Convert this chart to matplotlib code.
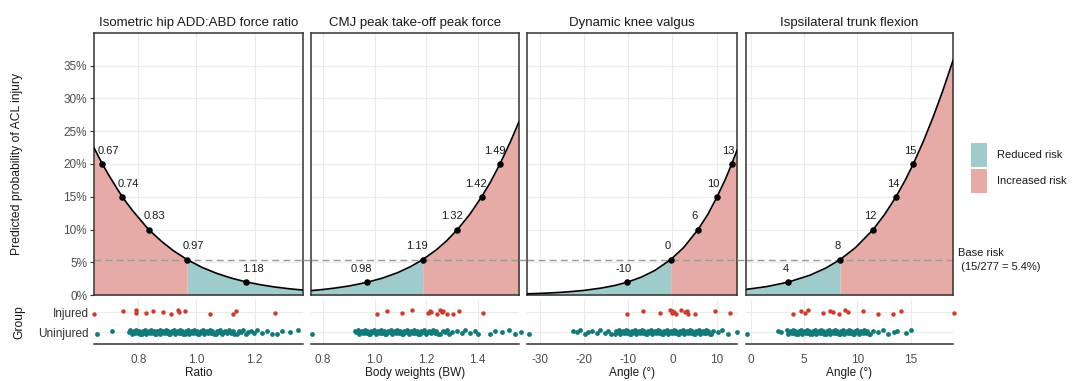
import numpy as np
import matplotlib
matplotlib.use("Agg")
import matplotlib.pyplot as plt
from matplotlib.lines import Line2D
from matplotlib.patches import Rectangle
from matplotlib.transforms import blended_transform_factory

plt.rcParams['font.family'] = ['Liberation Sans', 'DejaVu Sans']

# ---- data ----
base_risk = 0.054
base_label = "Base risk\n (15/277 = 5.4%)"

titles = ["Isometric hip ADD:ABD force ratio", "CMJ peak take-off peak force",
          "Dynamic knee valgus", "Ispsilateral trunk flexion"]
xlabels = ["Ratio", "Body weights (BW)", "Angle (°)", "Angle (°)"]
legend_labels = ["Reduced risk", "Increased risk"]

# predicted probability curves
hip_curve_x = [0.647, 0.676, 0.70, 0.744, 0.78, 0.835, 0.88, 0.92, 0.968, 1.02, 1.07,
               1.12, 1.172, 1.22, 1.27, 1.32, 1.367]
hip_curve_y = [0.2246, 0.200, 0.1814, 0.150, 0.1288, 0.100, 0.0818, 0.0678, 0.054, 0.0420,
               0.0330, 0.0258, 0.0199, 0.0157, 0.0122, 0.0095, 0.0075]
cmj_curve_x = [0.753, 0.80, 0.85, 0.90, 0.97, 1.03, 1.09, 1.14, 1.187, 1.24, 1.28, 1.322,
               1.37, 1.416, 1.45, 1.487, 1.53, 1.561]
cmj_curve_y = [0.0067, 0.0084, 0.0108, 0.0137, 0.0193, 0.0257, 0.0342, 0.0434, 0.054, 0.0690,
               0.0828, 0.100, 0.1232, 0.150, 0.1723, 0.200, 0.236, 0.2645]
knee_curve_x = [-32.9, -28, -24, -20, -16, -13, -10.2, -7, -4, -0.4, 2.5, 5.8, 8, 10.1,
                12, 13.4, 14.6]
knee_curve_y = [0.0018, 0.0030, 0.0046, 0.0070, 0.0107, 0.0146, 0.0196, 0.0274, 0.0374, 0.054,
                0.0722, 0.100, 0.1230, 0.150, 0.1771, 0.200, 0.221]
trunk_curve_x = [-0.47, 1.5, 3.5, 5.5, 7, 8.36, 9.8, 11.48, 12.6, 13.62, 14.5, 15.24, 16.2,
                 17.1, 18.0, 18.97]
trunk_curve_y = [0.0085, 0.0129, 0.0197, 0.0300, 0.0409, 0.054, 0.0722, 0.100, 0.1242, 0.150,
                 0.1758, 0.200, 0.2351, 0.2715, 0.3113, 0.358]

# labelled cut points
hip_pts_x = [0.676, 0.744, 0.835, 0.968, 1.172]
hip_pts_y = [0.200, 0.150, 0.100, 0.054, 0.0199]
hip_pts_lab = ["0.67", "0.74", "0.83", "0.97", "1.18"]
cmj_pts_x = [0.970, 1.187, 1.322, 1.416, 1.487]
cmj_pts_y = [0.0193, 0.054, 0.100, 0.150, 0.200]
cmj_pts_lab = ["0.98", "1.19", "1.32", "1.42", "1.49"]
knee_pts_x = [-10.2, -0.4, 5.8, 10.1, 13.4]
knee_pts_y = [0.0196, 0.054, 0.100, 0.150, 0.200]
knee_pts_lab = ["-10", "0", "6", "10", "13"]
trunk_pts_x = [3.5, 8.36, 11.48, 13.62, 15.24]
trunk_pts_y = [0.0197, 0.054, 0.100, 0.150, 0.200]
trunk_pts_lab = ["4", "8", "12", "14", "15"]

# individual athletes (rug)
hip_inj = [0.647, 0.748, 0.790, 0.792, 0.826, 0.851, 0.886, 0.911, 0.937, 0.939, 0.960,
           1.047, 1.126, 1.135, 1.271]
hip_uninj = [0.656, 0.710, 0.768, 0.771, 0.777, 0.780, 0.786, 0.789, 0.793, 0.799, 0.802,
             0.806, 0.811, 0.815, 0.818, 0.824, 0.827, 0.831, 0.836, 0.840, 0.843, 0.849,
             0.852, 0.856, 0.861, 0.864, 0.869, 0.873, 0.876, 0.882, 0.885, 0.889, 0.894,
             0.897, 0.902, 0.906, 0.909, 0.915, 0.918, 0.922, 0.927, 0.930, 0.935, 0.939,
             0.942, 0.948, 0.951, 0.955, 0.960, 0.963, 0.968, 0.972, 0.975, 0.981, 0.984,
             0.988, 0.993, 0.997, 1.001, 1.006, 1.010, 1.014, 1.019, 1.023, 1.027, 1.032,
             1.036, 1.041, 1.046, 1.050, 1.055, 1.061, 1.066, 1.071, 1.077, 1.082, 1.088,
             1.094, 1.099, 1.106, 1.112, 1.118, 1.125, 1.131, 1.138, 1.146, 1.153, 1.161,
             1.170, 1.178, 1.187, 1.197, 1.208, 1.225, 1.242, 1.259, 1.277, 1.294, 1.322, 1.351]
cmj_inj = [1.009, 1.047, 1.108, 1.147, 1.209, 1.214, 1.219, 1.242, 1.254, 1.262, 1.267,
           1.280, 1.306, 1.328, 1.423]
cmj_uninj = [0.757, 0.924, 0.929, 0.934, 0.940, 0.945, 0.950, 0.956, 0.961, 0.966, 0.972,
             0.977, 0.982, 0.988, 0.993, 0.998, 1.004, 1.009, 1.014, 1.020, 1.025, 1.030,
             1.036, 1.041, 1.046, 1.052, 1.057, 1.062, 1.068, 1.073, 1.078, 1.084, 1.089,
             1.094, 1.100, 1.105, 1.110, 1.116, 1.121, 1.126, 1.132, 1.137, 1.142, 1.148,
             1.153, 1.158, 1.164, 1.169, 1.175, 1.181, 1.187, 1.193, 1.199, 1.206, 1.212,
             1.219, 1.226, 1.233, 1.240, 1.248, 1.256, 1.264, 1.273, 1.282, 1.291, 1.300,
             1.319, 1.339, 1.351, 1.371, 1.390, 1.403, 1.449, 1.468, 1.494, 1.522, 1.546, 1.569]
knee_inj = [-10.2, -6.7, -2.8, -0.6, -0.2, 0.0, 0.4, 0.8, 1.9, 2.8, 3.2, 3.6, 5.1, 9.6, 13.0]
knee_uninj = [-32.4, -22.4, -21.7, -20.9, -19.8, -19.0, -18.3, -17.1, -16.4, -15.3, -14.5,
              -13.8, -13.0, -12.7, -12.3, -12.1, -11.8, -11.4, -11.2, -10.9, -10.5, -10.3,
              -10.0, -9.6, -9.4, -9.1, -8.7, -8.5, -8.2, -7.8, -7.6, -7.3, -6.9, -6.7, -6.4,
              -6.0, -5.8, -5.5, -5.1, -4.9, -4.6, -4.2, -4.0, -3.7, -3.3, -3.1, -2.8, -2.4,
              -2.2, -1.9, -1.5, -1.3, -1.0, -0.6, -0.4, -0.1, 0.3, 0.5, 0.8, 1.2, 1.4, 1.7,
              2.1, 2.3, 2.6, 3.0, 3.2, 3.5, 3.9, 4.1, 4.4, 4.8, 5.0, 5.3, 5.7, 5.9, 6.2, 6.6,
              6.8, 7.1, 7.5, 7.7, 8.0, 8.4, 8.8, 9.2, 10.4, 11.1, 12.6, 14.5]
trunk_inj = [3.97, 4.69, 5.07, 5.38, 6.79, 7.42, 7.73, 8.29, 8.83, 9.14, 10.55, 11.95, 13.3,
             14.08, 19.06]
trunk_uninj = [-0.40, 2.56, 2.79, 3.35, 3.50, 3.61, 3.72, 3.82, 3.93, 4.04, 4.15, 4.26, 4.37,
               4.48, 4.59, 4.70, 4.81, 4.92, 5.03, 5.14, 5.25, 5.36, 5.47, 5.58, 5.69, 5.80,
               5.91, 6.02, 6.13, 6.24, 6.35, 6.46, 6.57, 6.68, 6.79, 6.90, 7.01, 7.12, 7.23,
               7.34, 7.45, 7.56, 7.67, 7.78, 7.89, 8.00, 8.11, 8.22, 8.33, 8.44, 8.55, 8.66,
               8.77, 8.88, 8.99, 9.10, 9.21, 9.32, 9.43, 9.54, 9.65, 9.76, 9.87, 9.98, 10.10,
               10.22, 10.35, 10.48, 10.62, 10.76, 10.90, 11.05, 11.20, 11.5, 11.95, 12.4, 12.9,
               13.4, 13.7, 14.6, 14.99]

# ---- styling ----
c_reduced = "#a0cbcb"
c_increased = "#e6aba6"
c_inj = "#cc3b2e"
c_uninj = "#137a7a"
grid_c = "#ebebeb"
dark = "#333333"
dash_c = "#999999"
dash_ls = (0, (5, 3))

panels = [
    dict(cx=hip_curve_x, cy=hip_curve_y, px=hip_pts_x, py=hip_pts_y, lab=hip_pts_lab,
         inj=hip_inj, uninj=hip_uninj, xlim=(0.647, 1.367), xt=[0.8, 1.0, 1.2],
         xtl=["0.8", "1.0", "1.2"], reduced_right=True, nudge=4.5),
    dict(cx=cmj_curve_x, cy=cmj_curve_y, px=cmj_pts_x, py=cmj_pts_y, lab=cmj_pts_lab,
         inj=cmj_inj, uninj=cmj_uninj, xlim=(0.753, 1.561), xt=[0.8, 1.0, 1.2, 1.4],
         xtl=["0.8", "1.0", "1.2", "1.4"], reduced_right=False, nudge=-4.0),
    dict(cx=knee_curve_x, cy=knee_curve_y, px=knee_pts_x, py=knee_pts_y, lab=knee_pts_lab,
         inj=knee_inj, uninj=knee_uninj, xlim=(-32.9, 14.6), xt=[-30, -20, -10, 0, 10],
         xtl=["-30", "-20", "-10", "0", "10"], reduced_right=False, nudge=-2.5),
    dict(cx=trunk_curve_x, cy=trunk_curve_y, px=trunk_pts_x, py=trunk_pts_y, lab=trunk_pts_lab,
         inj=trunk_inj, uninj=trunk_uninj, xlim=(-0.47, 18.97), xt=[0, 5, 10, 15],
         xtl=["0", "5", "10", "15"], reduced_right=False, nudge=-2.0),
]

W, H = 1072, 381
fig = plt.figure(figsize=(W / 100, H / 100), dpi=100)

lefts = [94, 311, 527, 746]
rights = [303, 519, 737, 953]
top_y0, top_y1 = 33, 295
rug_y0, rug_y1 = 300, 344

jit = np.array([-0.08, 0.05, -0.02, 0.09, -0.10, 0.02, 0.07, -0.05, 0.10, -0.07, 0.04, -0.11])

axes_top = []
for i, p in enumerate(panels):
    l, r = lefts[i], rights[i]
    ax = fig.add_axes([l / W, 1 - top_y1 / H, (r - l) / W, (top_y1 - top_y0) / H])
    axr = fig.add_axes([l / W, 1 - rug_y1 / H, (r - l) / W, (rug_y1 - rug_y0) / H])
    axes_top.append(ax)

    cx = np.array(p["cx"])
    cy = np.array(p["cy"])
    # cut point where the curve crosses the base risk
    thr = p["px"][int(np.argmin(np.abs(np.array(p["py"]) - base_risk)))]
    if p["reduced_right"]:
        red_mask, inc_mask = cx >= thr, cx <= thr
    else:
        red_mask, inc_mask = cx <= thr, cx >= thr
    ax.fill_between(cx, 0, cy, where=red_mask, color=c_reduced, lw=0, zorder=1)
    ax.fill_between(cx, 0, cy, where=inc_mask, color=c_increased, lw=0, zorder=1)
    ax.axhline(base_risk, color=dash_c, lw=1.0, ls=dash_ls, zorder=2)
    ax.plot(cx, cy, color="black", lw=1.2, zorder=3)
    ax.scatter(p["px"], p["py"], s=22, color="black", zorder=4, lw=0)
    for x, y, t in zip(p["px"], p["py"], p["lab"]):
        ax.annotate(t, (x, y), xytext=(p["nudge"], 9.5), textcoords="offset points",
                    ha="center", va="center", fontsize=8, color="#1a1a1a", zorder=5)

    ax.set_xlim(p["xlim"])
    ax.set_ylim(0, 0.40)
    ax.set_xticks(p["xt"])
    ax.set_yticks(np.arange(0, 0.36, 0.05))
    ax.grid(True, color=grid_c, lw=0.8, zorder=0)
    ax.set_axisbelow(True)
    ax.tick_params(axis="x", length=0, labelbottom=False)
    if i == 0:
        ax.set_yticklabels([f"{v}%" for v in range(0, 36, 5)])
        ax.tick_params(axis="y", length=3, color=dark, width=0.8, labelsize=8.5,
                       labelcolor="#4d4d4d", pad=2)
    else:
        ax.tick_params(axis="y", length=0, labelleft=False)
    for s in ax.spines.values():
        s.set_color(dark)
        s.set_linewidth(1.1)
    ax.set_title(titles[i], fontsize=9.5, color="#1a1a1a", pad=5)

    # rug of individual athletes
    uninj = np.array(p["uninj"])
    inj = np.array(p["inj"])
    axr.scatter(uninj, 1 + np.resize(jit, len(uninj)), s=12, color=c_uninj, lw=0,
                clip_on=False, zorder=3)
    axr.scatter(inj, 2 + np.resize(jit[::-1], len(inj)), s=10, color=c_inj, lw=0,
                clip_on=False, zorder=3)
    axr.set_xlim(p["xlim"])
    axr.set_ylim(0.4, 2.6)
    axr.set_xticks(p["xt"])
    axr.set_xticklabels(p["xtl"])
    axr.set_yticks([1, 2])
    axr.grid(True, color=grid_c, lw=0.8, zorder=0)
    axr.set_axisbelow(True)
    for k in ["top", "left", "right"]:
        axr.spines[k].set_visible(False)
    axr.spines["bottom"].set_color(dark)
    axr.spines["bottom"].set_linewidth(1.1)
    axr.tick_params(axis="x", length=0, labelsize=8.5, labelcolor="#4d4d4d", pad=7)
    if i == 0:
        axr.set_yticklabels(["Uninjured", "Injured"])
        axr.tick_params(axis="y", length=0, labelsize=8.5, labelcolor="#333333", pad=4)
    else:
        axr.tick_params(axis="y", length=0, labelleft=False)
    axr.set_xlabel(xlabels[i], fontsize=8.5, color="#1a1a1a", labelpad=1)

# base risk line continues through the gaps between panels
tr = blended_transform_factory(fig.transFigure, axes_top[0].transData)
for k in range(len(panels) - 1):
    fig.add_artist(Line2D([rights[k] / W, lefts[k + 1] / W], [base_risk, base_risk],
                          transform=tr, color=dash_c, lw=1.0, ls=dash_ls))
fig.text(958 / W, 1 - 260 / H, base_label, fontsize=8, color="#1a1a1a",
         ha="left", va="center", linespacing=1.5)

fig.text(17 / W, 1 - 164 / H, "Predicted probability of ACL injury", rotation=90,
         fontsize=8.7, color="#1a1a1a", ha="center", va="center")
fig.text(19 / W, 1 - 322 / H, "Group", rotation=90, fontsize=8.7, color="#1a1a1a",
         ha="center", va="center")

# legend keys
for k, (lab, col) in enumerate(zip(legend_labels, [c_reduced, c_increased])):
    y0 = 143 + k * 26
    fig.add_artist(Rectangle((971 / W, 1 - (y0 + 24) / H), 16 / W, 24 / H,
                             transform=fig.transFigure, facecolor=col, edgecolor="none"))
    fig.text(997 / W, 1 - (y0 + 12) / H, lab, fontsize=8, color="#1a1a1a",
             ha="left", va="center")

fig.savefig("out.png", dpi=100)
